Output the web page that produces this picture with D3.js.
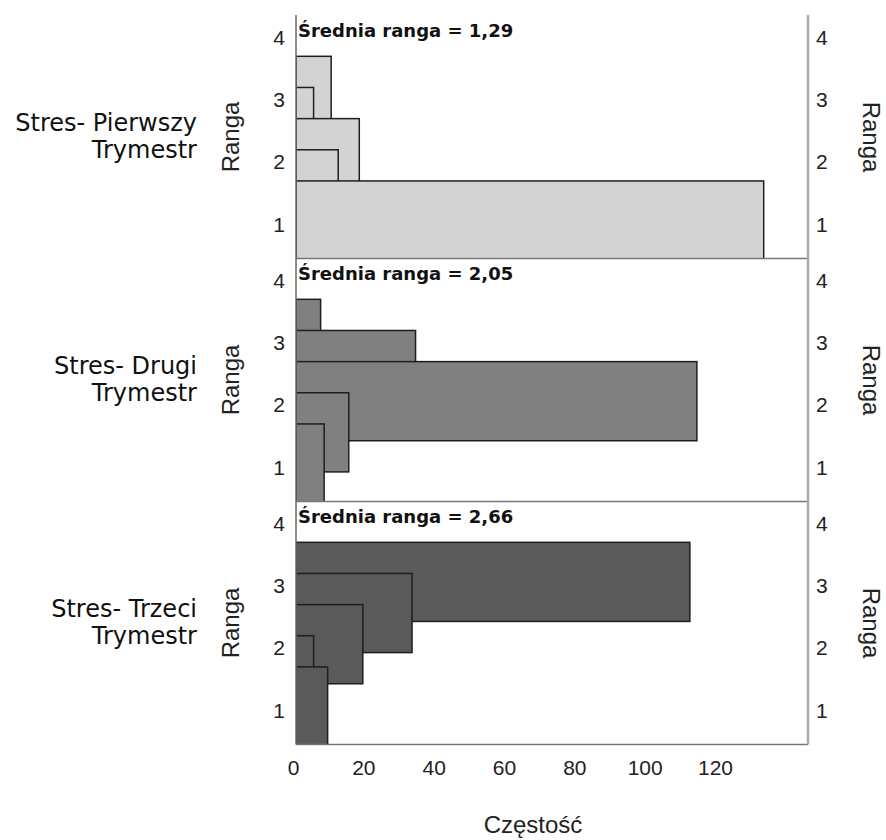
<!DOCTYPE html>
<html>
<head>
<meta charset="utf-8">
<script src="https://cdn.jsdelivr.net/npm/d3@7/dist/d3.min.js"></script>
<style>
  html, body { margin: 0; padding: 0; background: #ffffff; }
  svg { display: block; }
</style>
</head>
<body>
<div id="chart"></div>
<script>
// Friedman test: distribution of ranks for three trimester stress measures
const rankValues = [1, 1.5, 2, 2.5, 3];
const rankTicks = [1, 2, 3, 4];
const freqTicks = [0, 20, 40, 60, 80, 100, 120];

const panelNames = [
  ["Stres- Pierwszy", "Trymestr"],
  ["Stres- Drugi", "Trymestr"],
  ["Stres- Trzeci", "Trymestr"]
];
const freqFirst  = [133, 12, 18, 5, 10];
const freqSecond = [8, 15, 114, 34, 7];
const freqThird  = [9, 5, 19, 33, 112];
const meanRanks  = ["1,29", "2,05", "2,66"];

const rows = [
  { name: panelNames[0], freq: freqFirst,  mean: meanRanks[0], fill: "#d3d3d3" },
  { name: panelNames[1], freq: freqSecond, mean: meanRanks[1], fill: "#808080" },
  { name: panelNames[2], freq: freqThird,  mean: meanRanks[2], fill: "#5a5a5a" }
];

const W = 886, H = 840;
const left = 296, right = 808;
const top0 = 15.5, panelH = 243;
const bottomAll = top0 + panelH * rows.length;

// each bar spans a band of rank units around its rank value
const BAND_BELOW = 0.57, BAND_ABOVE = 0.70;

const sansArial = "'Liberation Sans', Arial, sans-serif";

const svg = d3.select("#chart").append("svg")
  .attr("width", W).attr("height", H);

const x = d3.scaleLinear().domain([0, 145.6]).range([left, right]);

const defs = svg.append("defs");

rows.forEach((row, i) => {
  const top = top0 + i * panelH;
  const bottom = top + panelH;
  const y = d3.scaleLinear().domain([0.455, 4.355]).range([bottom, top]);

  defs.append("clipPath").attr("id", "clip" + i)
    .append("rect")
    .attr("x", left).attr("y", top)
    .attr("width", right - left).attr("height", panelH);

  // higher ranks first so lower-rank bars sit on top
  const bars = rankValues.map((r, k) => ({ r, n: row.freq[k] })).reverse();

  svg.append("g").attr("clip-path", `url(#clip${i})`)
    .selectAll("rect").data(bars).join("rect")
    .attr("x", x(0))
    .attr("y", d => y(d.r + BAND_ABOVE))
    .attr("width", d => x(d.n) - x(0))
    .attr("height", d => y(d.r - BAND_BELOW) - y(d.r + BAND_ABOVE))
    .attr("fill", row.fill)
    .attr("stroke", "#1e1e1e")
    .attr("stroke-width", 1.5);

  // rank axes on both sides
  const ax = svg.append("g").attr("transform", `translate(${left},0)`)
    .call(d3.axisLeft(y).tickValues(rankTicks).tickFormat(d3.format("d"))
      .tickSize(0).tickPadding(11));
  ax.select(".domain").remove();
  ax.selectAll("text")
    .attr("font-family", sansArial)
    .attr("font-size", 21).attr("fill", "#222");

  const axr = svg.append("g").attr("transform", `translate(${right},0)`)
    .call(d3.axisRight(y).tickValues(rankTicks).tickFormat(d3.format("d"))
      .tickSize(0).tickPadding(8));
  axr.select(".domain").remove();
  axr.selectAll("text")
    .attr("font-family", sansArial)
    .attr("font-size", 21).attr("fill", "#222");

  const cy = (top + bottom) / 2;

  svg.append("text")
    .attr("transform", `translate(239,${cy}) rotate(-90)`)
    .attr("text-anchor", "middle")
    .attr("font-family", sansArial)
    .attr("font-size", 24).attr("fill", "#222")
    .text("Ranga");

  svg.append("text")
    .attr("transform", `translate(863,${cy}) rotate(90)`)
    .attr("text-anchor", "middle")
    .attr("font-family", sansArial)
    .attr("font-size", 24).attr("fill", "#222")
    .text("Ranga");

  // variable name, two lines, right aligned
  const nameText = svg.append("text")
    .attr("text-anchor", "end")
    .attr("font-family", "'DejaVu Sans', sans-serif")
    .attr("font-size", 24).attr("fill", "#111");
  nameText.append("tspan").attr("x", 197).attr("y", cy - 6).text(row.name[0]);
  nameText.append("tspan").attr("x", 197).attr("y", cy + 21).text(row.name[1]);

  svg.append("text")
    .attr("x", 298).attr("y", top + 21.5)
    .attr("font-family", "'DejaVu Sans', sans-serif")
    .attr("font-weight", "bold")
    .attr("font-size", 18).attr("fill", "#111")
    .text("Średnia ranga = " + row.mean);

  if (i > 0) {
    svg.append("line")
      .attr("x1", left).attr("x2", right)
      .attr("y1", top).attr("y2", top)
      .attr("stroke", "#777").attr("stroke-width", 1.5);
  }
});

// frame
svg.append("line")
  .attr("x1", left).attr("x2", right)
  .attr("y1", bottomAll).attr("y2", bottomAll)
  .attr("stroke", "#777").attr("stroke-width", 1.5);
svg.append("line")
  .attr("x1", left).attr("x2", left)
  .attr("y1", top0 - 0.5).attr("y2", bottomAll)
  .attr("stroke", "#666").attr("stroke-width", 1.5);
svg.append("line")
  .attr("x1", right).attr("x2", right)
  .attr("y1", top0 - 0.5).attr("y2", bottomAll)
  .attr("stroke", "#aaa").attr("stroke-width", 2.5);

// frequency axis
const bx = svg.append("g").attr("transform", `translate(0,${bottomAll})`)
  .call(d3.axisBottom(x).tickValues(freqTicks).tickFormat(d3.format("d"))
    .tickSize(0).tickPadding(16));
bx.select(".domain").remove();
bx.selectAll("text")
  .attr("dx", -3)
  .attr("font-family", sansArial)
  .attr("font-size", 21).attr("fill", "#222");

svg.append("text")
  .attr("x", 533).attr("y", 833)
  .attr("text-anchor", "middle")
  .attr("font-family", sansArial)
  .attr("font-size", 24).attr("fill", "#222")
  .text("Częstość");
</script>
</body>
</html>
